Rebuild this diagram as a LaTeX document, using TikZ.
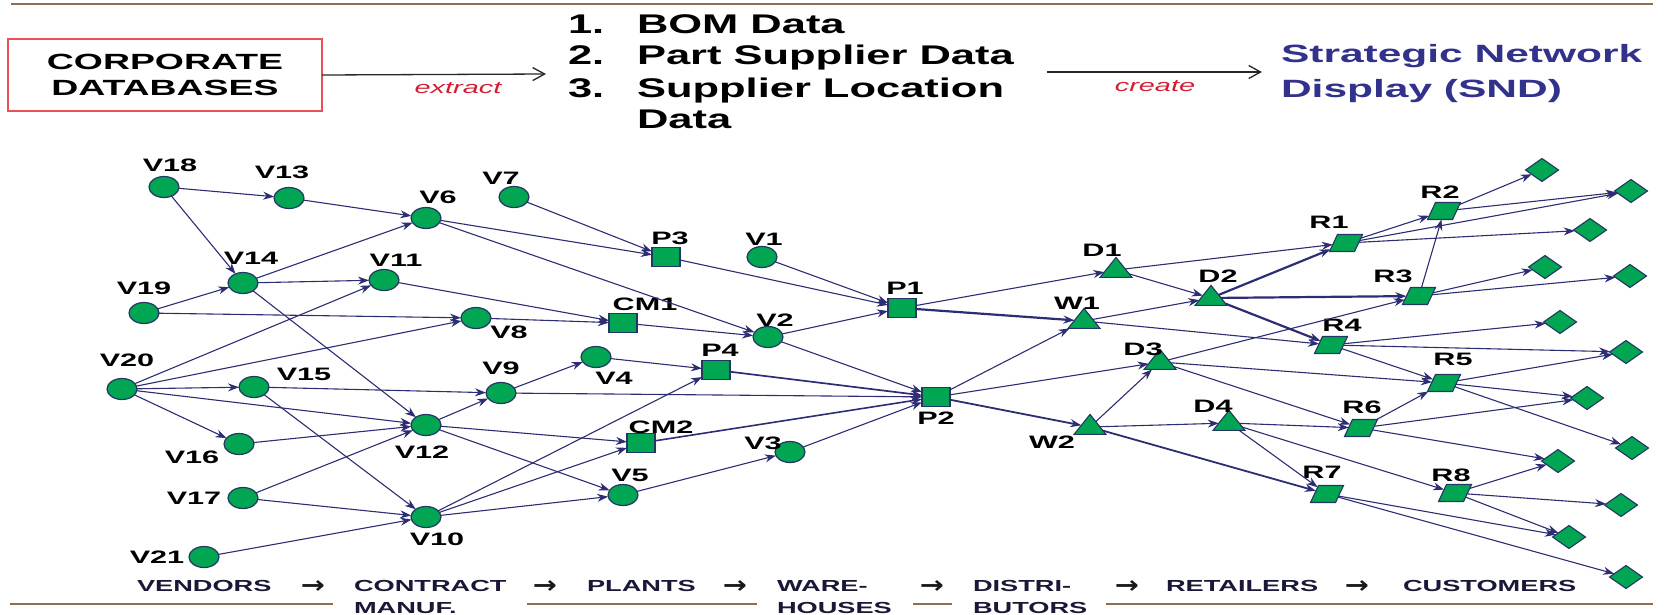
\documentclass[tikz,border=0pt]{standalone}
\usepackage{fontspec}
\setmainfont{Liberation Sans}
\newfontfamily\arrowfont{DejaVu Sans}
\usepackage{graphicx}
\usetikzlibrary{shapes.geometric,arrows.meta}

\definecolor{nodegreen}{RGB}{0,166,81}
\definecolor{nodeedge}{RGB}{35,55,100}
\definecolor{linkc}{RGB}{45,45,115}
\definecolor{rulebrown}{RGB}{140,110,80}
\definecolor{boxred}{RGB}{232,80,90}
\definecolor{verbred}{RGB}{210,30,50}
\definecolor{sndblue}{RGB}{50,50,140}
\definecolor{stagec}{RGB}{25,25,55}

% all lettering is set wide
\newcommand{\stretched}[2][1.7]{\scalebox{#1}[1]{#2}}

\begin{document}
\begin{tikzpicture}[x=1pt,y=-1pt,
  every node/.style={inner sep=0pt, outer sep=0pt},
  vtx/.style={ellipse, draw=nodeedge, fill=nodegreen, line width=1.2pt, minimum width=30pt, minimum height=21pt},
  plant/.style={rectangle, draw=nodeedge, fill=nodegreen, line width=1.2pt, minimum width=28pt, minimum height=19pt},
  depot/.style={isosceles triangle, isosceles triangle stretches, shape border rotate=90, draw=nodeedge, fill=nodegreen, line width=1.1pt, minimum width=32pt, minimum height=20pt, inner sep=1pt},
  shop/.style={trapezium, trapezium left angle=65, trapezium right angle=115, trapezium stretches=true, draw=nodeedge, fill=nodegreen, line width=1.1pt, minimum width=33pt, minimum height=17pt, inner sep=1pt},
  cust/.style={diamond, draw=nodeedge, fill=nodegreen, line width=1.1pt, minimum width=33pt, minimum height=23pt},
  lab/.style={font=\fontsize{18}{18}\selectfont\bfseries, text=black},
  lnk/.style={draw=linkc, line width=1.1pt, -{Stealth[length=11pt,width=8pt]}},
  hv/.style={line width=2.2pt},
  stage/.style={font=\fontsize{16}{16}\selectfont\bfseries, text=stagec},
  stagearrow/.style={font=\arrowfont\fontsize{24}{24}\selectfont\bfseries, text=black!90},
  rule/.style={draw=rulebrown, line width=2.6pt},
  hdr/.style={font=\fontsize{27}{27}\selectfont\bfseries, anchor=base west},
  snd/.style={font=\fontsize{25}{25}\selectfont\bfseries, text=sndblue, anchor=base west},
  verb/.style={font=\fontsize{17}{17}\selectfont\itshape, text=verbred},
  flow/.style={draw=black!85, line width=1.3pt, -{Straight Barb[length=12pt,width=13pt,line width=1.3pt]}},
]
\useasboundingbox (0,0) rectangle (1671,614);

% ---------- header ----------
\draw[rule] (11,4) -- (1653,4);
\node[draw=boxred, line width=1.6pt, minimum width=314pt, minimum height=72pt, align=center,
      font=\fontsize{22}{26}\selectfont\bfseries] (corp) at (165,75)
      {\stretched{CORPORATE}\\\stretched{DATABASES}};
\coordinate (xend) at (546,74);
\draw[flow] (corp.east) -- (xend);
\node[verb] (xtr) at (458,88) {\stretched{extract}};

\node[hdr] (n1) at (568,33) {\stretched[1.61]{1.}};
\node[hdr] (l1) at (637,33) {\stretched[1.61]{BOM Data}};
\node[hdr] (n2) at (568,64) {\stretched[1.61]{2.}};
\node[hdr] (l2) at (637,64) {\stretched[1.61]{Part Supplier Data}};
\node[hdr] (n3) at (568,97) {\stretched[1.61]{3.}};
\node[hdr] (l3) at (637,97) {\stretched[1.61]{Supplier Location}};
\node[hdr] (l4) at (637,128) {\stretched[1.61]{Data}};

\coordinate (cbeg) at (1047,72);
\coordinate (cend) at (1262,72);
\draw[flow] (cbeg) -- (cend);
\node[verb] (crt) at (1155,86) {\stretched{create}};
\node[snd] (snd1) at (1281,62) {\stretched{Strategic Network}};
\node[snd] (snd2) at (1281,97) {\stretched{Display (SND)}};

% ---------- vendors ----------
\node[vtx] (V18) at (164,187) {};
\node[vtx] (V13) at (289,198) {};
\node[vtx] (V6)  at (426,218) {};
\node[vtx] (V7)  at (514,197) {};
\node[vtx] (V14) at (243,283) {};
\node[vtx] (V11) at (384,280) {};
\node[vtx] (V19) at (144,313) {};
\node[vtx] (V8)  at (476,318) {};
\node[vtx] (V20) at (122,389) {};
\node[vtx] (V15) at (254,387) {};
\node[vtx] (V9)  at (501,393) {};
\node[vtx] (V4)  at (596,357) {};
\node[vtx] (V12) at (426,425) {};
\node[vtx] (V16) at (239,444) {};
\node[vtx] (V17) at (243,498) {};
\node[vtx] (V10) at (426,517) {};
\node[vtx] (V21) at (204,557) {};
\node[vtx] (V5)  at (623,495) {};
\node[vtx] (V3)  at (790,452) {};
\node[vtx] (V1)  at (762,257) {};
\node[vtx] (V2)  at (768,337) {};

% ---------- contract manufacturers and plants ----------
\node[plant] (CM1) at (623,323) {};
\node[plant] (CM2) at (641,443) {};
\node[plant] (P3)  at (666,257) {};
\node[plant] (P1)  at (902,308) {};
\node[plant] (P4)  at (716,370) {};
\node[plant] (P2)  at (936,397) {};

% ---------- warehouses and distributors ----------
\node[depot] (D1) at (1116,270) {};
\node[depot] (W1) at (1084,321) {};
\node[depot] (D2) at (1211,298) {};
\node[depot] (D3) at (1160,362) {};
\node[depot] (W2) at (1090,427) {};
\node[depot] (D4) at (1229,423) {};

% ---------- retailers ----------
\node[shop] (R1) at (1346,243) {};
\node[shop] (R2) at (1444,211) {};
\node[shop] (R3) at (1419,296) {};
\node[shop] (R4) at (1331,345) {};
\node[shop] (R5) at (1444,383) {};
\node[shop] (R6) at (1361,428) {};
\node[shop] (R7) at (1327,494) {};
\node[shop] (R8) at (1455,493) {};

% ---------- customers ----------
\node[cust] (C1)  at (1542,170) {};
\node[cust] (C2)  at (1631,191) {};
\node[cust] (C3)  at (1590,230) {};
\node[cust] (C4)  at (1545,267) {};
\node[cust] (C5)  at (1630,276) {};
\node[cust] (C6)  at (1560,322) {};
\node[cust] (C7)  at (1626,352) {};
\node[cust] (C8)  at (1587,398) {};
\node[cust] (C9)  at (1632,448) {};
\node[cust] (C10) at (1558,461) {};
\node[cust] (C11) at (1621,505) {};
\node[cust] (C12) at (1569,537) {};
\node[cust] (C13) at (1626,577) {};

% ---------- node labels ----------
\node[lab] (tV18) at (170,165) {\stretched{V18}};
\node[lab] (tV13) at (282,172) {\stretched{V13}};
\node[lab] (tV6)  at (438,197) {\stretched{V6}};
\node[lab] (tV7)  at (501,178) {\stretched{V7}};
\node[lab] (tV14) at (251,258) {\stretched{V14}};
\node[lab] (tV11) at (396,260) {\stretched{V11}};
\node[lab] (tV19) at (144,288) {\stretched{V19}};
\node[lab] (tV8)  at (509,332) {\stretched{V8}};
\node[lab] (tCM1) at (645,304) {\stretched{CM1}};
\node[lab] (tV20) at (127,360) {\stretched{V20}};
\node[lab] (tV15) at (304,374) {\stretched{V15}};
\node[lab] (tV9)  at (501,368) {\stretched{V9}};
\node[lab] (tV4)  at (614,378) {\stretched{V4}};
\node[lab] (tV12) at (422,452) {\stretched{V12}};
\node[lab] (tV16) at (192,457) {\stretched{V16}};
\node[lab] (tV17) at (194,498) {\stretched{V17}};
\node[lab] (tV10) at (437,539) {\stretched{V10}};
\node[lab] (tV21) at (157,557) {\stretched{V21}};
\node[lab] (tV5)  at (630,475) {\stretched{V5}};
\node[lab] (tCM2) at (661,427) {\stretched{CM2}};
\node[lab] (tV3)  at (763,443) {\stretched{V3}};
\node[lab] (tP3)  at (670,238) {\stretched{P3}};
\node[lab] (tV1)  at (764,239) {\stretched{V1}};
\node[lab] (tV2)  at (775,320) {\stretched{V2}};
\node[lab] (tP1)  at (905,288) {\stretched{P1}};
\node[lab] (tP4)  at (720,350) {\stretched{P4}};
\node[lab] (tP2)  at (936,418) {\stretched{P2}};
\node[lab] (tD1)  at (1102,250) {\stretched{D1}};
\node[lab] (tW1)  at (1077,303) {\stretched{W1}};
\node[lab] (tD2)  at (1218,276) {\stretched{D2}};
\node[lab] (tD3)  at (1143,349) {\stretched{D3}};
\node[lab] (tW2)  at (1052,442) {\stretched{W2}};
\node[lab] (tD4)  at (1213,406) {\stretched{D4}};
\node[lab] (tR1)  at (1329,222) {\stretched{R1}};
\node[lab] (tR2)  at (1440,192) {\stretched{R2}};
\node[lab] (tR3)  at (1393,276) {\stretched{R3}};
\node[lab] (tR4)  at (1342,325) {\stretched{R4}};
\node[lab] (tR5)  at (1453,359) {\stretched{R5}};
\node[lab] (tR6)  at (1362,407) {\stretched{R6}};
\node[lab] (tR7)  at (1322,472) {\stretched{R7}};
\node[lab] (tR8)  at (1451,475) {\stretched{R8}};

% ---------- links ----------
\draw[lnk] (V18) -- (V13);
\draw[lnk] (V18) -- (V14);
\draw[lnk] (V13) -- (V6);
\draw[lnk] (V14) -- (V6);
\draw[lnk] (V14) -- (V11);
\draw[lnk] (V14) -- (V12);
\draw[lnk] (V19) -- (V14);
\draw[lnk] (V19) -- (V8);
\draw[lnk] (V20) -- (V11);
\draw[lnk] (V20) -- (V8);
\draw[lnk] (V20) -- (V15);
\draw[lnk] (V20) -- (V12);
\draw[lnk] (V20) -- (V16);
\draw[lnk] (V15) -- (V9);
\draw[lnk] (V15) -- (V10);
\draw[lnk] (V16) -- (V12);
\draw[lnk] (V17) -- (V12);
\draw[lnk] (V17) -- (V10);
\draw[lnk] (V21) -- (V10);
\draw[lnk] (V11) -- (CM1);
\draw[lnk] (V8) -- (CM1);
\draw[lnk] (V12) -- (V9);
\draw[lnk] (V12) -- (CM2);
\draw[lnk] (V12) -- (V5);
\draw[lnk] (V10) -- (V5);
\draw[lnk] (V10) -- (CM2);
\draw[lnk] (V10) -- (P4);
\draw[lnk] (V9) -- (V4);
\draw[lnk] (V9) -- (P2);
\draw[lnk] (V4) -- (P4);
\draw[lnk] (CM1) -- (V2);
\draw[lnk] (V6) -- (P3);
\draw[lnk] (V6) -- (V2);
\draw[lnk] (V7) -- (P3);
\draw[lnk] (P3) -- (P1);
\draw[lnk] (V1) -- (P1);
\draw[lnk] (V2) -- (P1);
\draw[lnk] (V2) -- (P2);
\draw[lnk,line width=1.7pt] (P4) -- (P2);
\draw[lnk,line width=1.6pt] (CM2) -- (P2);
\draw[lnk] (V3) -- (P2);
\draw[lnk] (V5) -- (V3);
\draw[lnk] (P1) -- (D1);
\draw[lnk,hv] (P1) -- (W1);
\draw[lnk] (P2) -- (W1);
\draw[lnk] (P2) -- (D3);
\draw[lnk,line width=1.8pt] (P2) -- (W2);
\draw[lnk] (D1) -- (R1);
\draw[lnk] (D1) -- (D2);
\draw[lnk] (W1) -- (D2);
\draw[lnk] (W1) -- (R4);
\draw[lnk,hv] (D2) -- (R1);
\draw[lnk,hv] (D2) -- (R3);
\draw[lnk,hv] (D2) -- (R4);
\draw[lnk] (D3) -- (R3);
\draw[lnk] (D3) -- (R5);
\draw[lnk] (D3) -- (R6);
\draw[lnk] (W2) -- (D3);
\draw[lnk] (W2) -- (D4);
\draw[lnk,line width=1.8pt] (W2) -- (R7);
\draw[lnk] (D4) -- (R6);
\draw[lnk] (D4) -- (R7);
\draw[lnk] (D4) -- (R8);
\draw[lnk] (R1) -- (R2);
\draw[lnk] (R1) -- (C2);
\draw[lnk] (R1) -- (C3);
\draw[lnk] (R2) -- (C1);
\draw[lnk] (R2) -- (C2);
\draw[lnk] (R3) -- (R2);
\draw[lnk] (R3) -- (C4);
\draw[lnk] (R3) -- (C5);
\draw[lnk] (R4) -- (C6);
\draw[lnk] (R4) -- (C7);
\draw[lnk] (R4) -- (R5);
\draw[lnk] (R5) -- (C7);
\draw[lnk] (R5) -- (C8);
\draw[lnk] (R5) -- (C9);
\draw[lnk] (R6) -- (R5);
\draw[lnk] (R6) -- (C8);
\draw[lnk] (R6) -- (C10);
\draw[lnk] (R7) -- (C12);
\draw[lnk] (R7) -- (C13);
\draw[lnk] (R8) -- (C10);
\draw[lnk] (R8) -- (C11);
\draw[lnk] (R8) -- (C12);

% ---------- stage captions ----------
\node[stage, anchor=west] (sVen)  at (137,586) {\stretched{VENDORS}};
\node[stagearrow] (ar1) at (313,587) {\stretched[1.2]{→}};
\node[stage, anchor=west] (sCon)  at (354,586) {\stretched{CONTRACT}};
\node[stage, anchor=west] (sMan)  at (354,608) {\stretched{MANUF.}};
\node[stagearrow] (ar2) at (545,587) {\stretched[1.2]{→}};
\node[stage, anchor=west] (sPla)  at (587,586) {\stretched{PLANTS}};
\node[stagearrow] (ar3) at (735,587) {\stretched[1.2]{→}};
\node[stage, anchor=west] (sWar)  at (777,586) {\stretched{WARE-}};
\node[stage, anchor=west] (sHou)  at (777,608) {\stretched{HOUSES}};
\node[stagearrow] (ar4) at (932,587) {\stretched[1.2]{→}};
\node[stage, anchor=west] (sDis)  at (973,586) {\stretched{DISTRI-}};
\node[stage, anchor=west] (sBut)  at (973,608) {\stretched{BUTORS}};
\node[stagearrow] (ar5) at (1127,587) {\stretched[1.2]{→}};
\node[stage, anchor=west] (sRet)  at (1166,586) {\stretched{RETAILERS}};
\node[stagearrow] (ar6) at (1357,587) {\stretched[1.2]{→}};
\node[stage, anchor=west] (sCus)  at (1403,586) {\stretched{CUSTOMERS}};

\draw[rule] (10,604) -- (333,604);
\draw[rule] (527,604) -- (757,604);
\draw[rule] (913,604) -- (952,604);
\draw[rule] (1106,604) -- (1653,604);
\end{tikzpicture}
\end{document}
